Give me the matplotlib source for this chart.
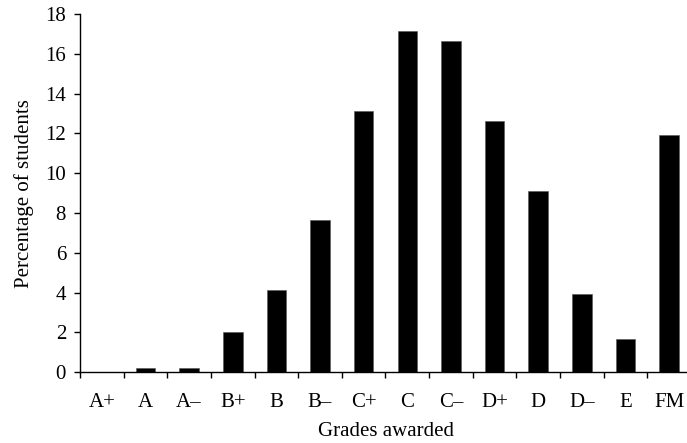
import numpy as np
import matplotlib
matplotlib.use("Agg")
import matplotlib.pyplot as plt

# grade categories and share of students (%)
grades = ["A+", "A", "A\u2013", "B+", "B", "B\u2013", "C+", "C", "C\u2013",
          "D+", "D", "D\u2013", "E", "FM"]
percent = [0.0, 0.23, 0.23, 2.03, 4.14, 7.66, 13.14, 17.14, 16.66,
           12.63, 9.11, 3.94, 1.66, 11.93]
y_ticks = [0, 2, 4, 6, 8, 10, 12, 14, 16, 18]

plt.rcParams['font.family'] = ['Liberation Serif', 'DejaVu Serif']
plt.rcParams['font.size'] = 15

fig = plt.figure(figsize=(6.87, 4.43), dpi=100)
ax = fig.add_axes([80/687, 70.7/443, 611/687, 358.3/443])

x = np.arange(len(grades))
ax.bar(x, percent, width=0.45, color="black", edgecolor="#555555", linewidth=0.4)

ax.set_xlim(-0.5, len(grades) - 0.5)
ax.set_ylim(0, 18)
ax.set_yticks(y_ticks)

# labels at category centres, tick marks at boundaries
ax.set_xticks(x)
ax.set_xticklabels(grades)
ax.set_xticks(np.arange(len(grades) + 1) - 0.5, minor=True)
ax.tick_params(axis="x", which="major", length=0, pad=15)
ax.tick_params(axis="x", which="minor", length=4, width=1, direction="out")
ax.tick_params(axis="y", length=4, width=1, direction="out", pad=6)

for s in ["top", "right"]:
    ax.spines[s].set_visible(False)
ax.spines["left"].set_linewidth(1)
ax.spines["bottom"].set_linewidth(1)

ax.set_xlabel("Grades awarded", labelpad=7)
ax.set_ylabel("Percentage of students", labelpad=8)

fig.savefig("out.png", dpi=100)
